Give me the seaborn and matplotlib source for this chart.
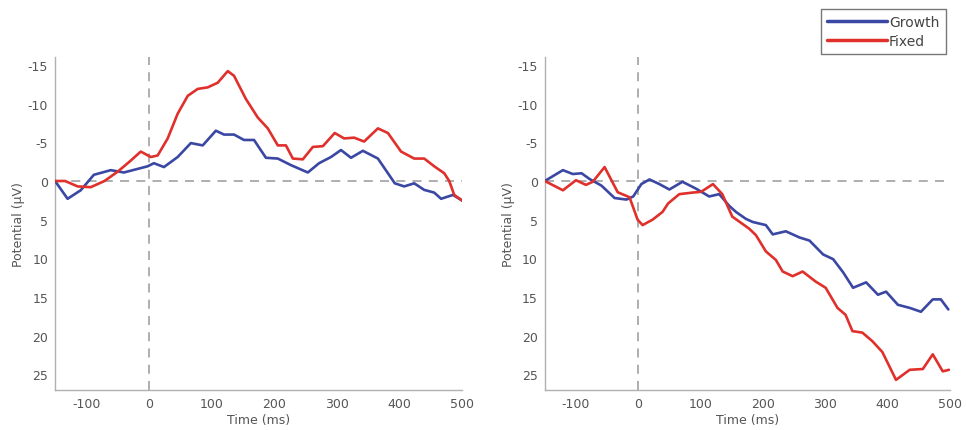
import numpy as np
import pandas as pd
import matplotlib
matplotlib.use("Agg")
import matplotlib.pyplot as plt
import seaborn as sns

# ---- data ----
left_growth_t = [-150, -130, -109, -88, -61, -40, -2, 8, 24, 46, 67, 86, 107, 120, 136, 152, 168, 187,
                 206, 227, 254, 272, 291, 307, 323, 342, 366, 393, 408, 424, 440, 456, 467, 486, 502]
left_growth_v = [0, 2.3, 1.2, -0.8, -1.4, -1.1, -1.9, -2.3, -1.8, -3.1, -4.9, -4.6, -6.5, -6.0, -6.0, -5.3,
                 -5.3, -3.0, -2.9, -2.05, -1.1, -2.3, -3.1, -4.0, -3.0, -3.9, -2.9, 0.3, 0.7, 0.3, 1.15,
                 1.5, 2.3, 1.8, 2.6]
left_fixed_t = [-150, -134, -114, -93, -71, -50, -31, -13, 3, 14, 30, 46, 62, 78, 94, 110, 126, 136, 155,
                174, 190, 206, 219, 230, 246, 262, 278, 297, 312, 328, 344, 366, 382, 403, 424, 440, 456,
                472, 480, 488, 502]
left_fixed_v = [0, 0, 0.7, 0.8, 0.0, -1.2, -2.5, -3.8, -3.1, -3.3, -5.5, -8.7, -11.0, -11.9, -12.1, -12.7,
                -14.2, -13.6, -10.6, -8.2, -6.8, -4.6, -4.6, -2.9, -2.8, -4.4, -4.5, -6.2, -5.5, -5.6,
                -5.1, -6.8, -6.2, -3.8, -2.9, -2.9, -1.9, -1.0, 0.0, 1.8, 2.6]

right_growth_t = [-150, -121, -105, -91, -78, -59, -38, -19, -8, 5, 18, 34, 50, 71, 93, 114, 130, 146,
                  157, 173, 184, 205, 216, 237, 259, 275, 297, 313, 329, 345, 366, 385, 398, 417, 436,
                  454, 473, 486, 498]
right_growth_v = [0, -1.4, -0.9, -1.0, -0.25, 0.6, 2.2, 2.4, 2.0, 0.4, -0.2, 0.4, 1.1, 0.1, 1.0, 2.0, 1.7,
                  3.2, 4.0, 4.9, 5.3, 5.7, 6.9, 6.5, 7.3, 7.7, 9.5, 10.1, 11.8, 13.8, 13.1, 14.7, 14.3,
                  16.0, 16.4, 16.9, 15.3, 15.3, 16.6]
right_fixed_t = [-150, -121, -100, -84, -73, -54, -33, -14, -1, 7, 23, 39, 48, 66, 87, 101, 120, 135, 151,
                 178, 189, 205, 221, 232, 248, 264, 285, 301, 320, 333, 344, 360, 376, 392, 414, 436, 457,
                 473, 489, 499]
right_fixed_v = [0, 1.2, -0.1, 0.5, 0.1, -1.8, 1.45, 2.1, 5.0, 5.7, 5.0, 4.0, 2.9, 1.7, 1.5, 1.4, 0.4,
                 1.7, 4.6, 6.15, 7.0, 9.1, 10.2, 11.7, 12.3, 11.7, 13.0, 13.8, 16.4, 17.3, 19.4, 19.6,
                 20.7, 22.1, 25.7, 24.4, 24.3, 22.4, 24.6, 24.4]

conditions = ["Growth", "Fixed"]
x_ticks = [-100, 0, 100, 200, 300, 400, 500]
y_ticks = [-15, -10, -5, 0, 5, 10, 15, 20, 25]

palette = {"Growth": "#3a47a3", "Fixed": "#e0302c"}


def make_df(gt, gv, ft, fv):
    return pd.concat([
        pd.DataFrame({"Time": gt, "Potential": gv, "Condition": "Growth"}),
        pd.DataFrame({"Time": ft, "Potential": fv, "Condition": "Fixed"}),
    ], ignore_index=True)


dfs = [make_df(left_growth_t, left_growth_v, left_fixed_t, left_fixed_v),
       make_df(right_growth_t, right_growth_v, right_fixed_t, right_fixed_v)]

sns.set_theme(style="white")
plt.rcParams["font.family"] = ["DejaVu Sans"]
plt.rcParams["axes.unicode_minus"] = False

fig = plt.figure(figsize=(9.66, 4.31), dpi=100)
positions = [[0.057, 0.093, 0.421, 0.772], [0.564, 0.093, 0.419, 0.772]]
grey = "#9a9a9a"
txt = "#555555"

for pos, df in zip(positions, dfs):
    ax = fig.add_axes(pos)
    ax.axhline(0, color="#a8a8a8", lw=1.3, ls=(0, (5, 4)), zorder=1)
    ax.axvline(0, color="#a8a8a8", lw=1.3, ls=(0, (5, 4)), zorder=1)
    sns.lineplot(data=df, x="Time", y="Potential", hue="Condition", hue_order=conditions,
                 palette=palette, sort=False, estimator=None, lw=1.9, ax=ax, legend=False, zorder=3)
    ax.set_xlim(-150, 500)
    ax.set_ylim(27, -16)
    ax.set_xticks(x_ticks)
    ax.set_yticks(y_ticks)
    ax.set_xlabel("Time (ms)", fontsize=9, color=txt, labelpad=2)
    ax.set_ylabel("Potential (μV)", fontsize=9, color=txt, labelpad=2)
    ax.tick_params(axis="both", direction="in", length=3, width=0.8, colors=grey,
                   labelcolor=txt, labelsize=9, pad=5)
    for s in ["top", "right"]:
        ax.spines[s].set_visible(False)
    for s in ["left", "bottom"]:
        ax.spines[s].set_color("#b0b0b0")
        ax.spines[s].set_linewidth(1.0)

handles = [plt.Line2D([], [], color=palette[c], lw=2.5) for c in conditions]
leg = fig.legend(handles, conditions, loc="upper right", bbox_to_anchor=(0.979, 0.977),
                 fontsize=10, frameon=True, fancybox=False, handlelength=4.3, handletextpad=0.15,
                 borderpad=0.45, labelspacing=0.35, borderaxespad=0)
leg.get_frame().set_edgecolor("#555555")
leg.get_frame().set_linewidth(1.0)
for t in leg.get_texts():
    t.set_color("#444444")

fig.savefig("out.png", dpi=100)
